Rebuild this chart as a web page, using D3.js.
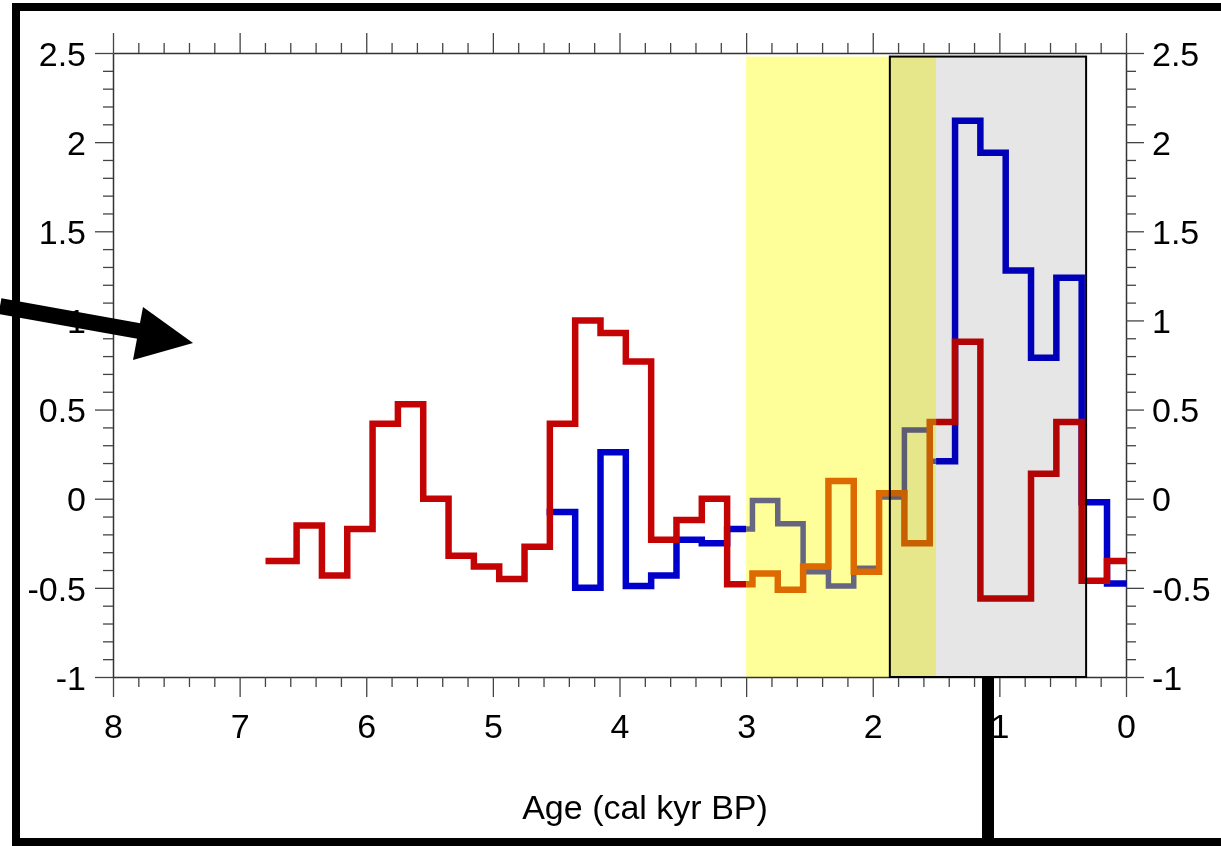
<!DOCTYPE html>
<html>
<head>
<meta charset="utf-8">
<script src="https://cdn.jsdelivr.net/npm/d3@7"></script>
<style>
  body { margin: 0; background: #fff; }
  svg { display: block; }
  text { font-family: "Liberation Sans", Arial, sans-serif; fill: #000; }
</style>
</head>
<body>
<svg width="1221" height="846"></svg>
<script>
// step series, each value holds from its age down to the next age (kyr BP)
var redAges = [6.77, 6.55, 6.35, 6.15, 5.95, 5.75, 5.55, 5.35, 5.15, 4.95, 4.75, 4.55,
  4.35, 4.15, 3.95, 3.75, 3.55, 3.35, 3.15, 2.95, 2.75, 2.55, 2.35, 2.15, 1.95, 1.75,
  1.55, 1.35, 1.15, 0.95, 0.75, 0.55, 0.35, 0.15];
var redValues = [-0.35, -0.15, -0.43, -0.17, 0.42, 0.53, 0, -0.32, -0.38, -0.45, -0.27, 0.42,
  1.0, 0.93, 0.77, -0.23, -0.12, 0, -0.48, -0.42, -0.51, -0.38, 0.1, -0.41, 0.03, -0.25,
  0.43, 0.88, -0.56, -0.56, 0.14, 0.43, -0.46, -0.35];
var redEnd = 0.02;

var blueAges = [4.55, 4.35, 4.15, 3.95, 3.75, 3.55, 3.35, 3.15, 2.95, 2.75, 2.55, 2.35,
  2.15, 1.95, 1.75, 1.55, 1.35, 1.15, 0.95, 0.75, 0.55, 0.35, 0.15];
var blueValues = [-0.075, -0.5, 0.26, -0.49, -0.43, -0.23, -0.25, -0.17, -0.01, -0.14, -0.41, -0.49,
  -0.39, 0.01, 0.385, 0.21, 2.12, 1.94, 1.28, 0.79, 1.24, -0.02, -0.475];
var blueEnd = 0.02;

var yellowBand = [3.0, 1.5];     // inside it red -> orange, blue -> grey
var greyBox = [1.865, 0.315];
var shadeTop = 2.48;

var ageTicks = d3.range(0, 41).map(function(i) { return i / 5; });
var valueTicks = d3.range(-10, 26).map(function(i) { return i / 10; });

var svg = d3.select('svg');
var x = d3.scaleLinear().domain([8, 0]).range([113, 1126]);
var y = d3.scaleLinear().domain([-1, 2.5]).range([677, 53]);

var isMajorX = function(d) { return Math.abs(d - Math.round(d)) < 1e-6; };
var isMajorY = function(d) { return Math.abs(d * 2 - Math.round(d * 2)) < 1e-6; };
var fmt = function(d) { return String(Math.round(d * 10) / 10); };

svg.append('rect').attr('width', 1221).attr('height', 846).attr('fill', '#fff');

// yellow band sits under the lines
svg.append('rect')
  .attr('x', x(yellowBand[0])).attr('y', y(shadeTop))
  .attr('width', x(yellowBand[1]) - x(yellowBand[0]))
  .attr('height', y(-1) - y(shadeTop))
  .attr('fill', '#ffff99');

// axes
var styleAxis = function(g, major, labels) {
  g.select('.domain').attr('stroke', '#333').attr('stroke-width', 1.5);
  g.selectAll('.tick line').attr('stroke', '#444').attr('stroke-width', 1.3);
  g.selectAll('.tick text').style('font-size', '34px')
    .text(function(d) { return labels && major(d) ? fmt(d) : ''; });
};

var xAxisBottom = svg.append('g').attr('transform', 'translate(0,' + y(-1) + ')')
  .call(d3.axisBottom(x).tickValues(ageTicks).tickSizeOuter(0));
xAxisBottom.selectAll('.tick line').attr('y2', function(d) { return isMajorX(d) ? 20 : 10; });
styleAxis(xAxisBottom, isMajorX, true);
xAxisBottom.selectAll('.tick text').attr('y', 37).attr('dy', '0.71em');

var xAxisTop = svg.append('g').attr('transform', 'translate(0,' + y(2.5) + ')')
  .call(d3.axisTop(x).tickValues(ageTicks).tickSizeOuter(0));
xAxisTop.selectAll('.tick line').attr('y2', function(d) { return isMajorX(d) ? -20 : -10; });
styleAxis(xAxisTop, isMajorX, false);

var yAxisLeft = svg.append('g').attr('transform', 'translate(' + x(8) + ',0)')
  .call(d3.axisLeft(y).tickValues(valueTicks).tickSizeOuter(0));
yAxisLeft.selectAll('.tick line').attr('x2', function(d) { return isMajorY(d) ? -18 : -10; });
styleAxis(yAxisLeft, isMajorY, true);
yAxisLeft.selectAll('.tick text').attr('x', -27).attr('dy', '0.36em');

var yAxisRight = svg.append('g').attr('transform', 'translate(' + x(0) + ',0)')
  .call(d3.axisRight(y).tickValues(valueTicks).tickSizeOuter(0));
yAxisRight.selectAll('.tick line').attr('x2', function(d) { return isMajorY(d) ? 18 : 10; });
styleAxis(yAxisRight, isMajorY, true);
yAxisRight.selectAll('.tick text').attr('x', 26).attr('dy', '0.36em');

svg.append('text')
  .attr('x', 645).attr('y', 819)
  .attr('text-anchor', 'middle')
  .style('font-size', '34px')
  .text('Age (cal kyr BP)');

// clip paths: inside / outside the yellow band
var defs = svg.append('defs');
defs.append('clipPath').attr('id', 'inBand').append('rect')
  .attr('x', x(yellowBand[0])).attr('y', 0)
  .attr('width', x(yellowBand[1]) - x(yellowBand[0])).attr('height', 846);
var outClip = defs.append('clipPath').attr('id', 'outBand');
outClip.append('rect').attr('x', 0).attr('y', 0).attr('width', x(yellowBand[0])).attr('height', 846);
outClip.append('rect').attr('x', x(yellowBand[1])).attr('y', 0)
  .attr('width', 1221 - x(yellowBand[1])).attr('height', 846);

var step = d3.line()
  .x(function(d) { return x(d[0]); })
  .y(function(d) { return y(d[1]); })
  .curve(d3.curveStepAfter);

var toPoints = function(ages, values, end) {
  var pts = ages.map(function(a, i) { return [a, values[i]]; });
  pts.push([end, values[values.length - 1]]);
  return pts;
};

var drawSeries = function(pts, mainColor, bandColor, w, bw) {
  svg.append('path').datum(pts)
    .attr('d', step).attr('fill', 'none')
    .attr('stroke', mainColor).attr('stroke-width', w)
    .attr('stroke-linejoin', 'miter').attr('stroke-linecap', 'square')
    .attr('clip-path', 'url(#outBand)');
  svg.append('path').datum(pts)
    .attr('d', step).attr('fill', 'none')
    .attr('stroke', bandColor).attr('stroke-width', bw)
    .attr('stroke-linejoin', 'miter').attr('stroke-linecap', 'square')
    .attr('clip-path', 'url(#inBand)');
};

drawSeries(toPoints(blueAges, blueValues, blueEnd), '#0000cc', '#666680', 6.5, 5.5);
drawSeries(toPoints(redAges, redValues, redEnd), '#c40404', '#dd6a00', 6.5, 6.5);

// grey box multiplies over everything below it
svg.append('rect')
  .attr('x', x(greyBox[0])).attr('y', y(shadeTop))
  .attr('width', x(greyBox[1]) - x(greyBox[0]))
  .attr('height', y(-1) - y(shadeTop))
  .attr('fill', '#e6e6e6')
  .attr('stroke', '#000').attr('stroke-width', 2)
  .style('mix-blend-mode', 'multiply');

// frame and annotation marks around the figure
svg.append('rect').attr('x', 12).attr('y', 3).attr('width', 1209).attr('height', 8).attr('fill', '#000');
svg.append('rect').attr('x', 12).attr('y', 3).attr('width', 8).attr('height', 843).attr('fill', '#000');
svg.append('rect').attr('x', 12).attr('y', 838).attr('width', 1209).attr('height', 8).attr('fill', '#000');
svg.append('rect').attr('x', 982).attr('y', 677).attr('width', 12).attr('height', 169).attr('fill', '#000');

svg.append('line')
  .attr('x1', 0).attr('y1', 306).attr('x2', 150).attr('y2', 333)
  .attr('stroke', '#000').attr('stroke-width', 16);
svg.append('path')
  .attr('d', 'M143,307 L193,343 L133,360 Z')
  .attr('fill', '#000');
</script>
</body>
</html>
